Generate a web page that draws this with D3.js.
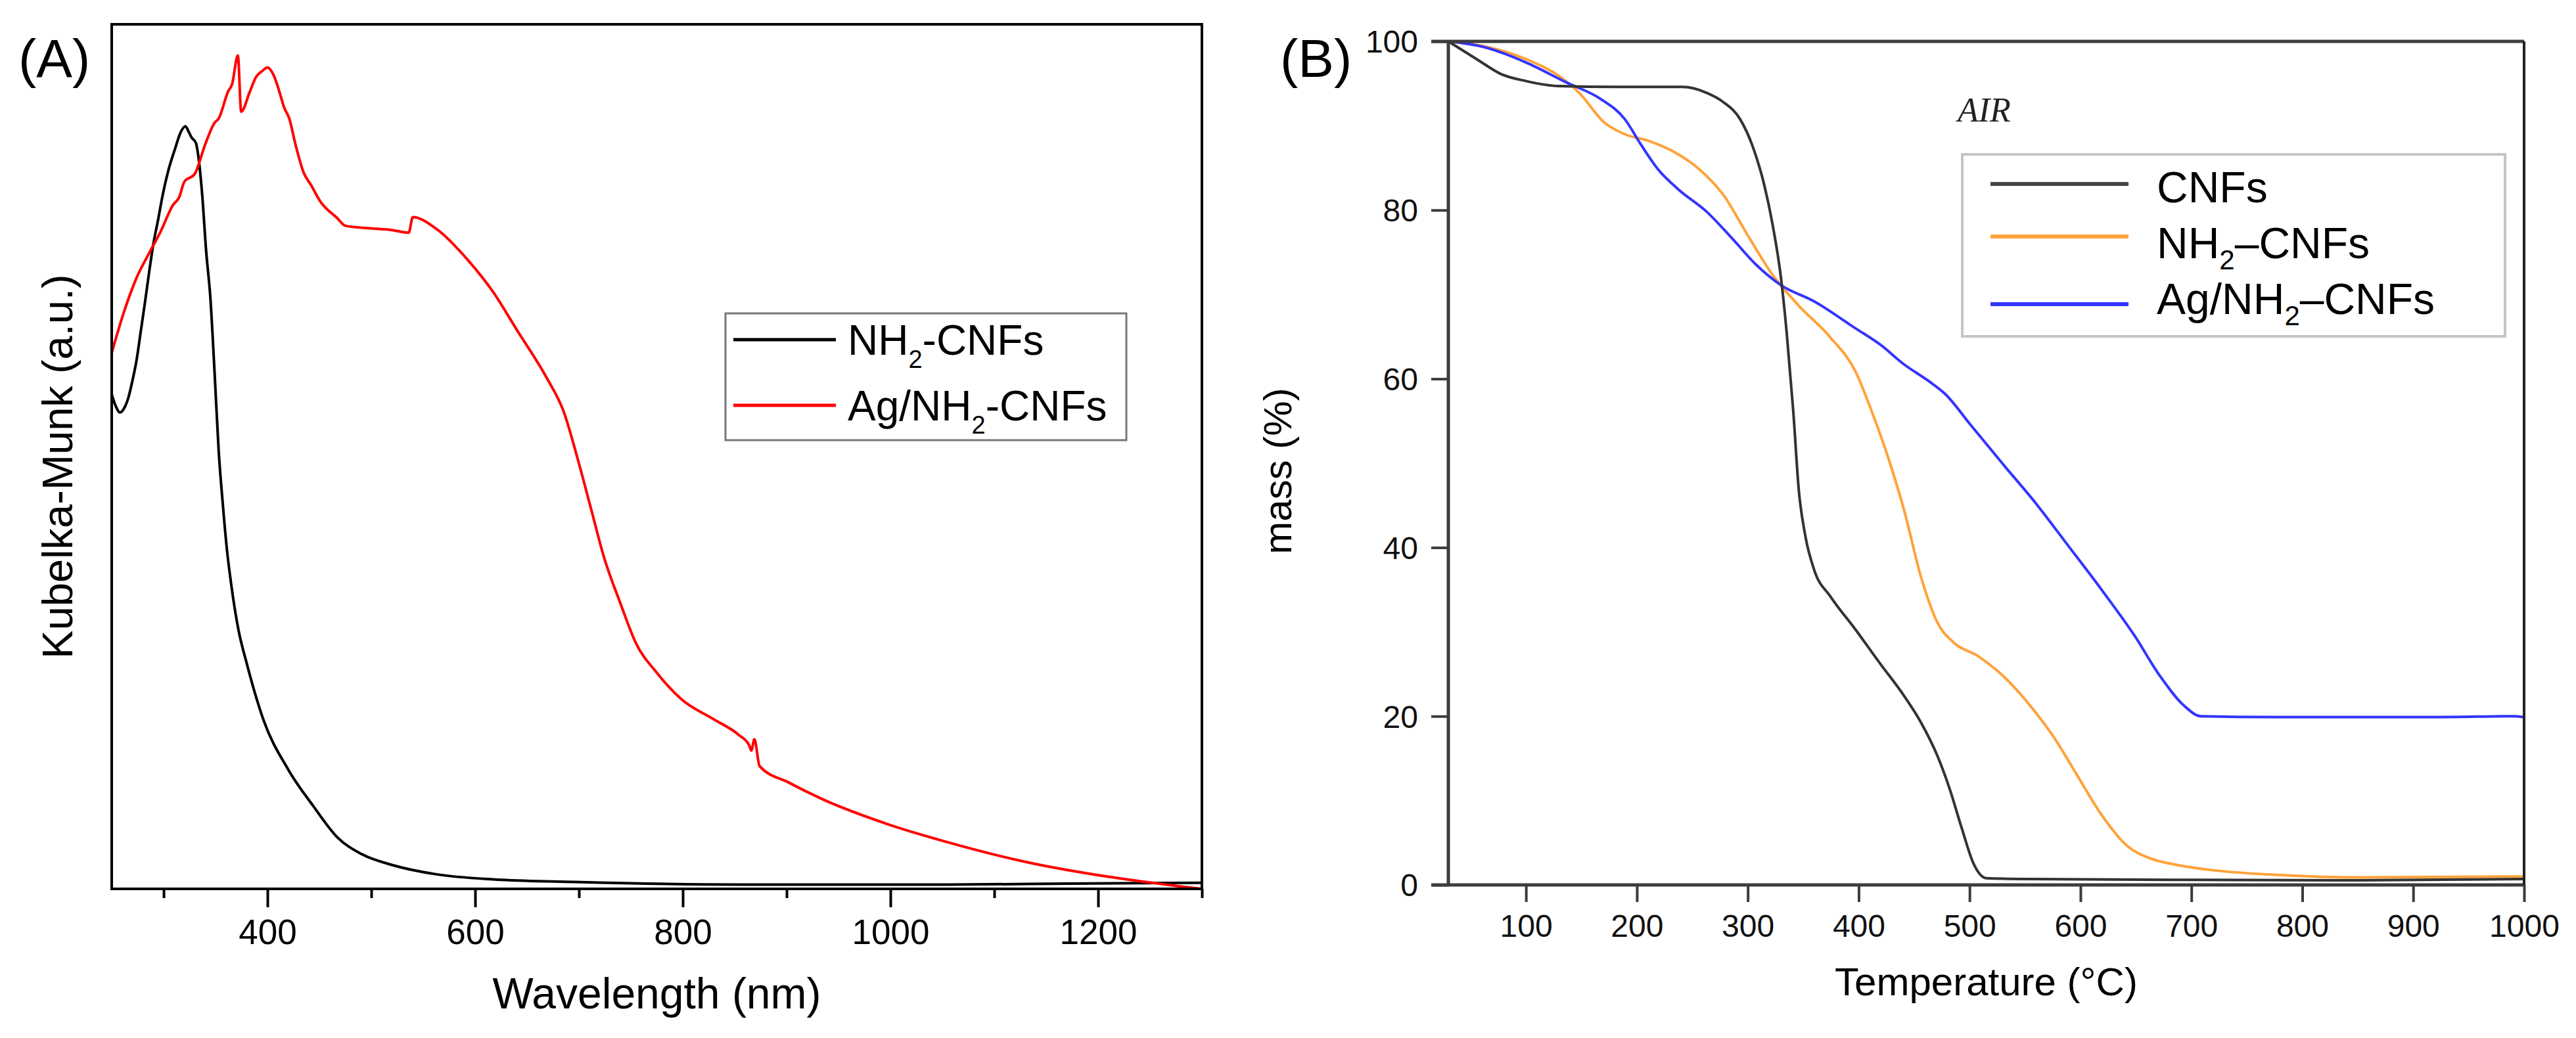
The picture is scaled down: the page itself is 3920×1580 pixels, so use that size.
<!DOCTYPE html>
<html><head><meta charset="utf-8">
<script src="https://cdn.jsdelivr.net/npm/d3@7"></script>
<style>html,body{margin:0;padding:0;background:#fff;} svg{display:block}</style>
</head><body><svg id="c" width="3920" height="1580"></svg>
<script>
// ---------- Panel A data (Kubelka-Munk, arbitrary units 0..100) ----------
const aTicksMajor = [400, 600, 800, 1000, 1200];
const aTicksMinor = [300, 500, 700, 900, 1100, 1300];
const aWlNH2 = [250,254,258,262,266,270,274,278,282,286,290,295,299,305,311,316,321,324,327,331,334,337,341,345,349,353,357,361,365,372,380,396,420,444,467,491,522,562,617,696,855,1052,1170,1300];
const aKmNH2 = [57.2,55.8,55.1,55.6,56.8,58.8,61.2,64.5,67.8,71.3,74.5,77.6,80.2,83.3,85.6,87.4,88.2,87.6,86.9,86.3,84.2,80.5,73.7,68.4,59.9,50.7,44.5,39.2,35.3,30.0,26.1,19.6,13.8,9.6,6.0,4.0,2.7,1.7,1.1,0.8,0.5,0.5,0.6,0.7];
const aWlAg = [250,262,274,285,297,309,315,320,330,340,349,353,362,366,371.5,374.7,383,389,395,400,406,411,416,421,427,435,442,451,467,475,499,520,536,540,562,594,617,641,669,685,700,712,724,740,755,775,799,830,854,864,866,869,874,902,934,997,1052,1131,1210,1300];
const aKmAg = [62.0,66.8,70.7,73.3,76.0,79.1,80.0,81.8,82.7,86.1,88.6,89.1,92.2,93.1,96.4,89.9,92.2,93.9,94.6,95.0,94.1,92.4,90.4,89.1,86.1,82.8,81.4,79.5,77.6,76.7,76.4,76.2,75.9,77.7,76.4,72.6,69.1,64.5,59.1,55.3,49.2,43.8,38.4,33.0,28.4,25.0,21.9,19.6,17.8,16.6,16.0,17.3,14.2,12.3,10.4,7.5,5.5,3.1,1.4,0.0];

// ---------- Panel B data (TGA in air) ----------
const bTicksX = [100,200,300,400,500,600,700,800,900,1000];
const bTicksY = [0,20,40,60,80,100];
const bTCNF = [30,55.5,78,100,129.7,181.6,241,263,278,293,304,315,322.5,330,335,341,346,352,360,374.5,397,419,441,456,471,482,493,504,515,552.5,701,849,1000];
const bMCNF = [100,97.9,96.1,95.3,94.7,94.6,94.6,93.9,92.8,90.8,87.7,82.9,78.2,71.9,65.6,56.2,46.8,41.3,37.3,34.2,30.3,26.3,22.4,19.3,15.3,11.4,6.7,2.4,0.8,0.7,0.6,0.55,0.7];
const bTNH2 = [30,63,100,129.7,148,170.5,189,211,233.5,255.8,278,300,322.5,345,374.5,397,411.6,426.5,441,456,471,486,508,530,552.5,575,597,619,641.5,663.8,686,715.7,775,849,1000];
const bMNH2 = [100,99.4,97.9,95.9,93.9,90.4,89.0,88.2,86.9,84.9,81.8,77.0,72.3,68.8,64.9,60.9,56.2,50.7,44.4,36.6,31.1,28.7,27.1,24.8,21.6,17.7,13.0,8.3,4.7,3.1,2.4,1.8,1.2,0.9,1.0];
const bTAg = [30,63,100,137,167,189,204,218.7,237,263,285.5,307.7,330,359.6,397,419,441,463.5,478,500.6,530,560,589.6,619,649,671.5,693.8,708.5,775,923,990,1000];
const bMAg = [100,99.3,97.5,95.1,93.2,90.8,87.7,84.9,82.5,79.8,76.7,73.5,71.1,69.2,66.0,64.1,61.7,59.7,58.2,54.6,49.9,45.2,40.1,35.0,29.5,24.8,21.2,20.0,19.9,19.9,20.0,19.9];

const FONT = "'Liberation Sans', Arial, Helvetica, sans-serif";
const svg = d3.select("#c");
svg.append("rect").attr("width",3920).attr("height",1580).attr("fill","#fff");

// ================= Panel A =================
const A = {l:170, r:1829, t:37, b:1353};
const xA = d3.scaleLinear().domain([250,1300]).range([A.l, A.r]);
const yA = d3.scaleLinear().domain([0,100]).range([A.b, A.t]);
const gA = svg.append("g");

const lineA = (xs, ys) => d3.line().x((d,i)=>xA(xs[i])).y((d,i)=>yA(ys[i])).curve(d3.curveMonotoneX)(xs);
gA.append("path").attr("d", lineA(aWlNH2, aKmNH2)).attr("fill","none").attr("stroke","#000").attr("stroke-width",4);
gA.append("path").attr("d", lineA(aWlAg, aKmAg)).attr("fill","none").attr("stroke","#ff0000").attr("stroke-width",4);

gA.append("rect").attr("x",A.l).attr("y",A.t).attr("width",A.r-A.l).attr("height",A.b-A.t)
  .attr("fill","none").attr("stroke","#000").attr("stroke-width",4);

const axMinorA = gA.append("g").attr("transform",`translate(0,${A.b})`)
  .call(d3.axisBottom(xA).tickValues(aTicksMinor).tickSize(14).tickFormat(""));
const axMajorA = gA.append("g").attr("transform",`translate(0,${A.b})`)
  .call(d3.axisBottom(xA).tickValues(aTicksMajor).tickSize(28).tickFormat(d3.format("d")));
[axMinorA, axMajorA].forEach(g=>{
  g.select(".domain").remove();
  g.selectAll("line").attr("stroke","#000").attr("stroke-width",4);
});
axMajorA.selectAll("text").attr("y",84).attr("dy",0).attr("fill","#000")
  .style("font-family",FONT).style("font-size","53px");

gA.append("text").attr("x",(A.l+A.r)/2).attr("y",1535).attr("text-anchor","middle")
  .style("font-family",FONT).style("font-size","66px").text("Wavelength (nm)");
gA.append("text").attr("transform","translate(110,710) rotate(-90)").attr("text-anchor","middle")
  .style("font-family",FONT).style("font-size","65px").text("Kubelka-Munk (a.u.)");
gA.append("text").attr("x",28).attr("y",117).style("font-family",FONT).style("font-size","82px").text("(A)");

// legend A
const legA = gA.append("g");
legA.append("rect").attr("x",1104).attr("y",477).attr("width",610).attr("height",193)
  .attr("fill","#fff").attr("stroke","#777").attr("stroke-width",3);
const legAItems = [{c:"#000", pre:"NH", post:"-CNFs", y:517, by:540},
                   {c:"#ff0000", pre:"Ag/NH", post:"-CNFs", y:617, by:640}];
legAItems.forEach(it=>{
  legA.append("line").attr("x1",1116).attr("x2",1272).attr("y1",it.y).attr("y2",it.y)
    .attr("stroke",it.c).attr("stroke-width",5);
  const t = legA.append("text").attr("x",1290).attr("y",it.by).style("font-family",FONT).style("font-size","64px");
  t.append("tspan").text(it.pre);
  t.append("tspan").attr("dy",20).style("font-size","38px").text("2");
  t.append("tspan").attr("dy",-20).text(it.post);
});

// ================= Panel B =================
const B = {l:2204, r:3841, t:63, b:1347};
const xB = d3.scaleLinear().domain([30,1000]).range([B.l, B.r]);
const yB = d3.scaleLinear().domain([0,100]).range([B.b, B.t]);
const gB = svg.append("g");

const lineB = (xs, ys) => d3.line().x((d,i)=>xB(xs[i])).y((d,i)=>yB(ys[i])).curve(d3.curveMonotoneX)(xs);
gB.append("path").attr("d", lineB(bTNH2, bMNH2)).attr("fill","none").attr("stroke","#ffa23a").attr("stroke-width",4);
gB.append("path").attr("d", lineB(bTAg, bMAg)).attr("fill","none").attr("stroke","#3434ff").attr("stroke-width",4);
gB.append("path").attr("d", lineB(bTCNF, bMCNF)).attr("fill","none").attr("stroke","#333").attr("stroke-width",4);

const axXB = gB.append("g").attr("transform",`translate(0,${B.b})`)
  .call(d3.axisBottom(xB).tickValues(bTicksX).tickSize(26).tickFormat(d3.format("d")));
const axYB = gB.append("g").attr("transform",`translate(${B.l},0)`)
  .call(d3.axisLeft(yB).tickValues(bTicksY).tickSize(26).tickFormat(d3.format("d")));
[axXB, axYB].forEach(g=>{
  g.select(".domain").remove();
  g.selectAll("line").attr("stroke","#3c3c3c").attr("stroke-width",4);
  g.selectAll("text").attr("fill","#111").style("font-family",FONT).style("font-size","48px");
});
axXB.selectAll("text").attr("y",79).attr("dy",0);
axYB.selectAll("text").attr("x",-46).attr("dy","0.35em");

// frame B
gB.append("line").attr("x1",B.l).attr("x2",B.l).attr("y1",B.t).attr("y2",B.b).attr("stroke","#3c3c3c").attr("stroke-width",5);
gB.append("line").attr("x1",B.l-26).attr("x2",B.r).attr("y1",B.b).attr("y2",B.b).attr("stroke","#3c3c3c").attr("stroke-width",5);
gB.append("line").attr("x1",B.l-26).attr("x2",B.r).attr("y1",B.t).attr("y2",B.t).attr("stroke","#3c3c3c").attr("stroke-width",5);
gB.append("line").attr("x1",B.r).attr("x2",B.r).attr("y1",B.t).attr("y2",B.b).attr("stroke","#222").attr("stroke-width",4);

gB.append("text").attr("x",(B.l+B.r)/2).attr("y",1515).attr("text-anchor","middle")
  .style("font-family",FONT).style("font-size","60px").text("Temperature (°C)");
gB.append("text").attr("transform","translate(1965,717) rotate(-90)").attr("text-anchor","middle")
  .style("font-family",FONT).style("font-size","60px").text("mass (%)");
gB.append("text").attr("x",1948).attr("y",117).style("font-family",FONT).style("font-size","82px").text("(B)");
gB.append("text").attr("x",2979).attr("y",185).style("font-family","'Liberation Serif','Times New Roman',serif")
  .style("font-style","italic").style("font-size","52px").attr("fill","#222").text("AIR");

// legend B
const legB = gB.append("g");
legB.append("rect").attr("x",2986).attr("y",235).attr("width",826).attr("height",277)
  .attr("fill","#fff").attr("stroke","#c4c4c4").attr("stroke-width",4);
const legBItems = [{c:"#444", pre:"CNFs", sub:null, post:"", y:280, by:308},
                   {c:"#ffa23a", pre:"NH", sub:"2", post:"\u2013CNFs", y:360, by:393},
                   {c:"#3434ff", pre:"Ag/NH", sub:"2", post:"\u2013CNFs", y:463, by:478}];
legBItems.forEach(it=>{
  legB.append("line").attr("x1",3029).attr("x2",3239).attr("y1",it.y).attr("y2",it.y)
    .attr("stroke",it.c).attr("stroke-width",6);
  const t = legB.append("text").attr("x",3282).attr("y",it.by).style("font-family",FONT).style("font-size","66px");
  t.append("tspan").text(it.pre);
  if (it.sub) {
    t.append("tspan").attr("dy",17).style("font-size","42px").text(it.sub);
    t.append("tspan").attr("dy",-17).text(it.post);
  }
});
</script></body></html>
